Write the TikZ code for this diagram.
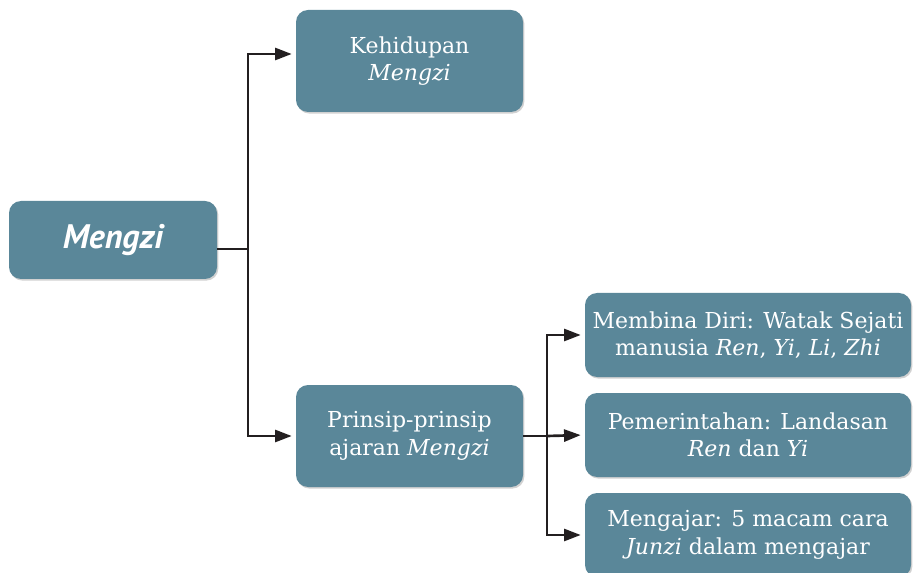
\documentclass[tikz,border=0pt]{standalone}
\usepackage{fontspec}
\setmainfont{DejaVu Serif}
\newfontfamily\rootfont{PT Sans}
\usetikzlibrary{arrows.meta,shadows}
\definecolor{boxteal}{RGB}{90,135,153}
\definecolor{linedark}{RGB}{35,31,32}

\begin{document}
\begin{tikzpicture}[x=0.75pt, y=-0.75pt,
    box/.style={fill=boxteal, rounded corners=9pt, text=white, align=center,
      inner sep=0pt, font=\fontsize{16.5}{20.5}\selectfont,
      drop shadow={shadow xshift=1pt, shadow yshift=-1.2pt, fill=black!45, opacity=0.4}},
    link/.style={draw=linedark, line width=2pt},
    tip/.style={-{Triangle[length=12.5pt, width=9pt]}, shorten >=3pt}]
  \useasboundingbox (0,0) rectangle (913,573);
  % root
  \node[box, minimum width=156pt, minimum height=58.5pt,
    font=\rootfont\fontsize{25.5}{28}\selectfont\bfseries\itshape] (mengzi) at (113,240) {Mengzi};
  % first level
  \node[box, minimum width=170.25pt, minimum height=76.5pt] (kehidupan) at (409.5,61)
    {Kehidupan\\\textit{Mengzi}};
  \node[box, minimum width=170.25pt, minimum height=76.5pt] (prinsip) at (409.5,436)
    {Prinsip-prinsip\\ajaran \textit{Mengzi}};
  % second level
  \node[box, minimum width=244.5pt, minimum height=63pt] (membina) at (748,335)
    {Membina Diri: Watak Sejati\\manusia \textit{Ren}, \textit{Yi}, \textit{Li}, \textit{Zhi}};
  \node[box, minimum width=244.5pt, minimum height=63pt] (pemerintahan) at (748,435)
    {Pemerintahan: Landasan\\\textit{Ren} dan \textit{Yi}};
  \node[box, minimum width=244.5pt, minimum height=63pt] (mengajar) at (748,535)
    {Mengajar: 5 macam cara\\\textit{Junzi} dalam mengajar};
  % connectors
  \coordinate (fork) at (248,249);
  \coordinate (fork2) at (547,436);
  \draw[link] (mengzi.east |- fork) -- (fork);
  \draw[link, tip] (fork) |- ([yshift=5.25pt]kehidupan.west);
  \draw[link, tip] (fork) |- (prinsip.west);
  \draw[link] (prinsip.east) -- (fork2);
  \draw[link, tip] (fork2) |- (membina.west);
  \draw[link, tip] (fork2) -- (pemerintahan.west);
  \draw[link, tip] (fork2) |- (mengajar.west);
\end{tikzpicture}
\end{document}
